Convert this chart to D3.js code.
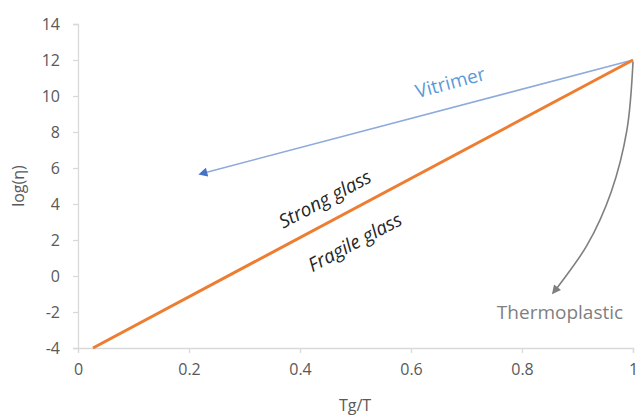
<!DOCTYPE html>
<html>
<head>
<meta charset="utf-8">
<script src="https://cdn.jsdelivr.net/npm/d3@7"></script>
<style>
    body { margin: 0; background: #fff; }
    text { font-family: "Open Sans", Lato, sans-serif; }
</style>
</head>
<body>
<div class="main"></div>
<script>
var xTicks = [0, 0.2, 0.4, 0.6, 0.8, 1];
var yTicks = [-4, -2, 0, 2, 4, 6, 8, 10, 12, 14];
var fragile = [[0.027, -4], [1, 12]];
var vitrimer = [[1, 12], [0.22, 5.67]];
var thermoplastic = [[1, 11.9], [0.989, 8.1], [0.961, 4.7], [0.917, 1.7], [0.856, -0.94]];

var options = {
    'width': 636,
    'height': 416,
};

var svg = d3.select('.main')
    .append('svg')
    .attr('width', options.width)
    .attr('height', options.height);

var x = d3.scaleLinear().domain([0, 1]).range([78, 633]);
var y = d3.scaleLinear().domain([-4, 14]).range([348, 24]);

var defs = svg.append('defs');
function arrow(id, color) {
    defs.append('marker')
        .attr('id', id)
        .attr('viewBox', '0 0 10 10')
        .attr('refX', 8)
        .attr('refY', 5)
        .attr('markerWidth', 10)
        .attr('markerHeight', 9)
        .attr('markerUnits', 'userSpaceOnUse')
        .attr('orient', 'auto')
        .append('path')
        .attr('d', 'M0,0L10,5L0,10Z')
        .style('fill', color);
}
arrow('arrow-blue', '#4472c4');
arrow('arrow-gray', '#7f7f7f');

// axes
var fmt = function (d) { return String(d); };
var xAxis = svg.append('g')
    .attr('transform', 'translate(0,' + y(-4) + ')')
    .call(d3.axisBottom(x).tickValues(xTicks).tickSize(5).tickPadding(11).tickFormat(fmt));
var yAxis = svg.append('g')
    .attr('transform', 'translate(' + x(0) + ',0)')
    .call(d3.axisLeft(y).tickValues(yTicks).tickSize(5).tickPadding(13).tickFormat(fmt));

[xAxis, yAxis].forEach(function (a) {
    a.select('.domain').style('stroke', '#d9d9d9').style('stroke-width', '1.3px');
    a.selectAll('.tick line').style('stroke', '#d9d9d9').style('stroke-width', '1.3px');
    a.selectAll('.tick text')
        .style('fill', '#595959')
        .style('font-size', '16px')
        .style('font-family', '"Open Sans", Lato, sans-serif');
});

svg.append('text')
    .text('Tg/T')
    .attr('x', 355)
    .attr('y', 411)
    .attr('text-anchor', 'middle')
    .style('fill', '#595959')
    .style('font-size', '16px');

svg.append('text')
    .text('log(η)')
    .attr('transform', 'translate(24,186) rotate(-90)')
    .attr('text-anchor', 'middle')
    .style('fill', '#595959')
    .style('font-size', '16px');

var line = d3.line()
    .x(function (d) { return x(d[0]); })
    .y(function (d) { return y(d[1]); });

svg.append('path')
    .attr('d', line(vitrimer))
    .style('fill', 'none')
    .style('stroke', '#8eaadb')
    .style('stroke-width', '1.6px')
    .attr('marker-end', 'url(#arrow-blue)');

svg.append('path')
    .attr('d', line(fragile))
    .style('fill', 'none')
    .style('stroke', '#ed7d31')
    .style('stroke-width', '3px');

svg.append('path')
    .attr('d', line.curve(d3.curveCatmullRom)(thermoplastic))
    .style('fill', 'none')
    .style('stroke', '#7f7f7f')
    .style('stroke-width', '1.6px')
    .attr('marker-end', 'url(#arrow-gray)');

// labels
svg.append('text')
    .text('Vitrimer')
    .attr('transform', 'translate(452,89) rotate(-15)')
    .attr('text-anchor', 'middle')
    .style('fill', '#5b9bd5')
    .style('font-size', '19px');

svg.append('text')
    .text('Strong glass')
    .attr('transform', 'translate(328,205) rotate(-28)')
    .attr('text-anchor', 'middle')
    .style('fill', '#262626')
    .style('font-style', 'italic')
    .style('font-size', '19px');

svg.append('text')
    .text('Fragile glass')
    .attr('transform', 'translate(358,248) rotate(-28)')
    .attr('text-anchor', 'middle')
    .style('fill', '#262626')
    .style('font-style', 'italic')
    .style('font-size', '19px');

svg.append('text')
    .text('Thermoplastic')
    .attr('x', 560)
    .attr('y', 319)
    .attr('text-anchor', 'middle')
    .style('fill', '#7f7f7f')
    .style('font-size', '19px');
</script>
</body>
</html>
